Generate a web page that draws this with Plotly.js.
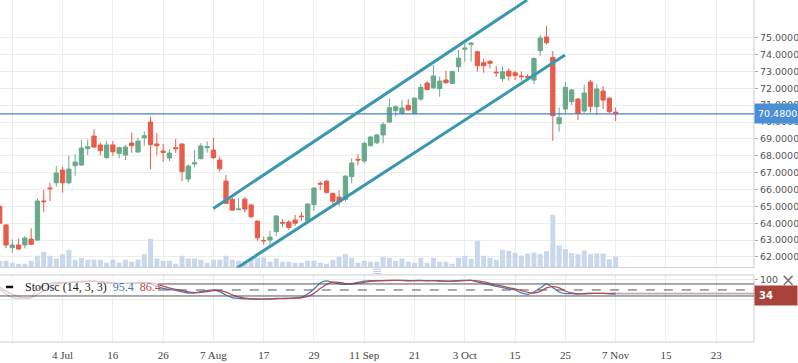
<!DOCTYPE html>
<html><head><meta charset="utf-8">
<script src="https://cdn.plot.ly/plotly-3.0.1.min.js"></script>
<style>html,body{margin:0;padding:0;background:#fff}#chart{width:798px;height:363px}</style>
</head><body><div id="chart"></div>
<script>
// bar index of first value (index 0 = 22 Jun)
const FIRST_INDEX = -2;
const openP = [65.0,63.9,62.55,62.71,62.71,63.06,63.0,65.32,66.09,66.40,
 67.15,66.40,67.41,67.45,68.42,69.17,68.64,67.89,68.64,68.14,
 68.04,68.76,68.22,69.07,70.0,68.70,68.28,67.87,68.48,68.70,
 66.62,67.51,67.83,68.48,68.34,67.75,66.50,65.42,64.80,65.43,
 65.08,64.13,62.98,63.0,63.50,64.05,64.07,64.19,64.43,64.15,
 65.10,66.36,66.50,65.77,65.55,65.42,66.76,67.79,67.69,68.60,
 68.77,69.23,70.0,70.67,70.51,70.99,70.49,71.36,72.31,72.02,
 71.98,72.49,72.29,73.28,74.31,74.60,74.17,73.52,73.60,72.96,
 72.57,73.02,72.92,72.73,72.69,72.49,74.23,75.04,73.83,69.90,
 70.77,71.21,71.36,70.65,72.37,70.91,71.84,71.42,70.59];
const highP = [65.15,63.95,63.04,63.1,63.24,63.70,65.47,65.97,66.40,67.39,
 67.35,68.0,68.10,68.93,68.97,69.58,68.79,68.87,68.87,68.54,
 68.64,69.37,69.07,69.43,70.32,69.35,68.70,68.40,68.99,68.72,
 67.49,68.34,68.74,68.85,69.07,67.94,66.86,65.53,65.49,65.55,
 65.14,64.15,63.2,63.54,64.49,64.23,64.19,64.49,64.66,65.18,
 66.11,66.50,66.52,65.81,65.97,66.82,67.85,68.10,68.83,69.17,
 69.27,70.0,71.38,71.0,71.30,71.36,71.44,72.25,72.43,73.38,
 72.69,73.04,73.04,74.27,74.66,74.75,74.23,73.74,73.68,73.32,
 73.28,73.18,73.04,73.0,72.83,73.83,75.16,75.69,74.21,70.87,
 72.37,71.96,71.44,72.20,72.49,72.25,72.14,71.44,70.87];
const lowP = [63.95,62.52,62.25,62.41,62.51,62.71,62.96,64.66,65.32,66.17,
 65.81,66.30,66.82,67.41,68.04,68.48,68.04,67.83,68.0,67.85,
 67.75,68.18,68.20,68.60,67.21,68.04,67.63,67.69,68.16,66.50,
 66.42,67.31,67.79,68.18,67.81,67.06,65.14,64.74,64.78,64.64,
 64.31,62.96,62.75,62.65,63.24,63.79,63.60,63.85,64.13,64.09,
 64.74,65.97,65.77,65.04,65.04,65.28,66.36,67.43,67.55,68.54,
 68.70,68.74,69.92,70.32,70.42,70.69,70.47,71.26,71.90,72.0,
 71.50,72.29,72.27,72.98,73.58,73.58,72.98,72.92,73.18,72.69,
 72.39,72.45,72.49,72.45,72.45,72.25,73.93,74.60,68.89,69.43,
 70.51,71.01,70.12,70.55,70.57,70.42,70.77,70.55,70.06];
const closeP = [64.0,62.71,62.71,62.47,63.12,62.75,65.32,65.28,66.05,66.98,
 66.40,67.21,67.63,68.46,68.54,68.52,68.30,68.64,68.24,68.48,
 68.52,68.60,68.87,69.19,68.66,68.60,68.20,68.16,68.42,67.06,
 67.39,67.59,68.58,68.54,67.89,67.23,65.18,64.78,64.84,64.84,
 64.39,63.14,62.96,63.18,64.43,64.01,63.75,64.0,64.39,65.14,
 66.09,66.32,65.83,65.30,65.26,66.80,67.57,67.75,68.74,69.11,
 69.23,69.86,70.85,70.91,70.83,70.71,71.42,72.06,71.92,72.73,
 72.43,72.33,73.0,73.79,74.39,74.68,73.34,73.34,73.48,72.92,
 72.98,72.73,72.75,72.69,72.65,73.77,74.98,74.70,70.38,70.26,
 72.06,71.90,70.51,71.72,70.93,71.96,71.30,70.61,70.48];
const volume = [20,20,14,11,11,20,35,47,35,27,
 40,53,23,29,23,23,23,14,23,14,
 23,17,23,40,86,27,20,20,11,35,
 27,27,23,14,23,23,35,23,20,20,
 30,30,30,17,27,17,17,14,14,20,
 20,14,11,23,32,40,29,14,20,17,
 17,32,29,20,27,17,14,29,14,29,
 17,17,11,29,35,26,80,35,29,23,
 53,50,44,36,42,45,40,49,158,66,
 55,43,40,51,40,42,42,25,33];
const stochK = [55,30,12,8,10,15,55,72,82,88,
 86,88,90,93,94,94,88,84,83,82,
 83,85,86,88,80,68,58,52,48,40,
 35,36,42,48,50,42,25,12,8,6,
 5,4,4,5,8,8,8,10,14,30,
 55,85,95,88,80,78,82,88,94,97,
 97,97,98,98,97,96,97,98,96,97,
 94,93,95,97,98,98,90,82,76,68,
 62,56,50,35,28,40,60,80,62,40,
 32,32,30,32,34,33,33,31,30];
const stochD = [65,45,30,17,10,11,27,47,70,81,
 85,87,88,90,92,94,92,89,85,83,
 83,83,85,86,85,79,69,59,53,47,
 41,37,38,42,47,47,39,26,15,9,
 6,5,4,4,6,7,8,9,11,18,
 33,57,78,89,88,82,80,83,88,93,
 96,97,97,98,98,97,97,97,97,97,
 96,95,94,95,97,98,95,90,83,75,
 69,62,56,47,38,35,43,60,67,61,
 45,35,31,31,32,33,33,33,34];
const tickVals = [0,8,16,24,32,40,48,56,64,72,80,88,96,104,112];
const tickText = ["","4 Jul","16","26","7 Aug","17","29","11 Sep","21","3 Oct","15","25","7 Nov","15","23"];
const priceTicks = [62,63,64,65,66,67,68,69,70,71,72,73,74,75];
// channel drawing: [startIndex, startPrice, endIndex, endPrice]
const channelUpper = [31.98, 64.88, 81.9, 77.23];
const channelLower = [35.75, 61.35, 87.94, 73.97];
const legendValK = "95.4", legendValD = "86.4";

const xs = openP.map((_, i) => i + FIRST_INDEX);
const xRange = [-1.957, 118.01];
const last = closeP.length - 1;
const GREEN = '#6aaa8b', RED = '#e85c4a';

const traces = [
  {type:'bar', x: xs, y: volume, xaxis:'x', yaxis:'y', marker:{color:'#cad8ec', line:{width:0}}, hoverinfo:'skip'},
  {type:'candlestick', x: xs, open: openP, high: highP, low: lowP, close: closeP, xaxis:'x', yaxis:'y3',
   increasing:{line:{color:GREEN, width:1}, fillcolor:GREEN},
   decreasing:{line:{color:RED, width:1}, fillcolor:RED}, whiskerwidth:0, hoverinfo:'skip'},
  {type:'scatter', mode:'lines', x: xs, y: stochK, xaxis:'x', yaxis:'y2', line:{color:'#4b78b8', width:1.3, shape:'spline', smoothing:0.5}, hoverinfo:'skip'},
  {type:'scatter', mode:'lines', x: xs, y: stochD, xaxis:'x', yaxis:'y2', line:{color:'#b84c4c', width:1.3, shape:'spline', smoothing:0.5}, hoverinfo:'skip'}
];

const shapes = [
  {type:'rect', xref:'paper', yref:'y domain', x0:-0.02, x1:1, y0:0, y1:1.02, line:{color:'#cccccc', width:1}, fillcolor:'rgba(0,0,0,0)', layer:'above'},
  {type:'rect', xref:'paper', yref:'y2 domain', x0:-0.02, x1:1, y0:0, y1:1, line:{color:'#cccccc', width:1}, fillcolor:'rgba(0,0,0,0)', layer:'above'},
  {type:'line', xref:'paper', yref:'y3', x0:0, x1:1, y0:closeP[last], y1:closeP[last], line:{color:'#4a80c8', width:1.2}, layer:'above'},
  {type:'line', xref:'x', yref:'y3', x0:channelUpper[0], y0:channelUpper[1], x1:channelUpper[2], y1:channelUpper[3], line:{color:'#3a98ae', width:3}, layer:'above'},
  {type:'line', xref:'x', yref:'y3', x0:channelLower[0], y0:channelLower[1], x1:channelLower[2], y1:channelLower[3], line:{color:'#3a98ae', width:3}, layer:'above'},
  {type:'line', xref:'paper', yref:'y2', x0:0.212, x1:1, y0:80, y1:80, line:{color:'#555', width:1}, layer:'above'},
  {type:'line', xref:'paper', yref:'y2', x0:0.212, x1:1, y0:50, y1:50, line:{color:'#555', width:1, dash:'dash'}, layer:'above'},
  {type:'line', xref:'x', yref:'y2', x0:xs[last], x1:xRange[1], y0:stochK[last], y1:stochK[last], line:{color:'rgba(75,120,184,0.5)', width:1}, layer:'above'},
  {type:'line', xref:'x', yref:'y2', x0:xs[last], x1:xRange[1], y0:stochD[last], y1:stochD[last], line:{color:'rgba(184,76,76,0.5)', width:1}, layer:'above'},
  {type:'rect', xref:'paper', yref:'y2', x0:0, x1:0.212, y0:5, y1:115, line:{width:0}, fillcolor:'rgba(255,255,255,0.68)', layer:'above'},
  {type:'line', xref:'paper', yref:'y2', x0:0, x1:1, y0:20, y1:20, line:{color:'#555', width:1}, layer:'above'},
  {type:'line', xref:'paper', yref:'y2', x0:0.008, x1:0.0175, y0:65, y1:65, line:{color:'#111', width:2.5}, layer:'above'}
];

const annotations = [
  {xref:'paper', yref:'y3', x:1, y:closeP[last], xanchor:'left', yanchor:'middle', showarrow:false,
   text: closeP[last].toFixed(4), bgcolor:'#4a8fd6', borderpad:3, font:{family:'DejaVu Sans', size:9.5, color:'#fff'}, width:40, height:13, align:'left'},
  {xref:'paper', yref:'y2', x:1, y:stochD[last], xanchor:'left', yanchor:'middle', yshift:-2, showarrow:false,
   text: '<b>' + Math.round(stochD[last]) + '</b>', bgcolor:'#a8433c', borderpad:4, font:{family:'DejaVu Sans', size:10, color:'#fff'}, width:34, align:'left'},
  {xref:'paper', yref:'y2', x:0.0305, y:65, xanchor:'left', yanchor:'middle', showarrow:false,
   text: 'StoOsc (14, 3, 3)  <span style="color:#4a72b0">' + legendValK + '</span>  <span style="color:#b24c4c">' + legendValD + '</span>',
   font:{family:'Liberation Serif', size:12, color:'#222'}},
  {xref:'paper', yref:'y2', x:1.045, y:100, xanchor:'center', yanchor:'middle', showarrow:false,
   text:'×', font:{family:'DejaVu Sans', size:17, color:'#777'}},
  {xref:'paper', yref:'paper', x:0.5, y:0.207, xanchor:'center', yanchor:'middle', showarrow:false,
   text:'≡', font:{family:'DejaVu Sans', size:12, color:'#bccbe0'}}
];

const layout = {
  width:798, height:363,
  margin:{l:0, r:44, t:0, b:21, pad:0},
  paper_bgcolor:'#fff', plot_bgcolor:'#fff',
  showlegend:false, bargap:0.2, boxgap:0.32, boxgroupgap:0,
  xaxis:{range:xRange, anchor:'y2', tickmode:'array', tickvals:tickVals, ticktext:tickText,
    showgrid:true, gridcolor:'#ededed', gridwidth:1, zeroline:false, showline:false,
    ticks:'outside', ticklen:3, tickcolor:'rgba(0,0,0,0)',
    tickfont:{family:'Liberation Serif', size:11, color:'#444'}, rangeslider:{visible:false}, fixedrange:true},
  yaxis:{domain:[0.218,1], range:[0,804], visible:false, fixedrange:true},
  yaxis3:{overlaying:'y', side:'right', anchor:'x', range:[61.38,77.235], tickmode:'array', tickvals:priceTicks,
    tickformat:'.4f', showgrid:true, gridcolor:'#ededed', gridwidth:1, zeroline:false, showline:false,
    ticks:'outside', ticklen:3, tickcolor:'#aaa', tickfont:{family:'DejaVu Sans', size:9.5, color:'#555'}, fixedrange:true},
  yaxis2:{domain:[0,0.196], range:[-210,125], side:'right', anchor:'x', tickmode:'array', tickvals:[0,100], ticktext:['','100'],
    showgrid:true, gridcolor:'#ededed', zeroline:false, showline:false,
    ticks:'outside', ticklen:3, tickcolor:'#aaa', tickfont:{family:'DejaVu Sans', size:9.5, color:'#555'}, fixedrange:true},
  shapes: shapes,
  annotations: annotations
};

Plotly.newPlot('chart', traces, layout, {displayModeBar:false, staticPlot:true});
</script></body></html>
